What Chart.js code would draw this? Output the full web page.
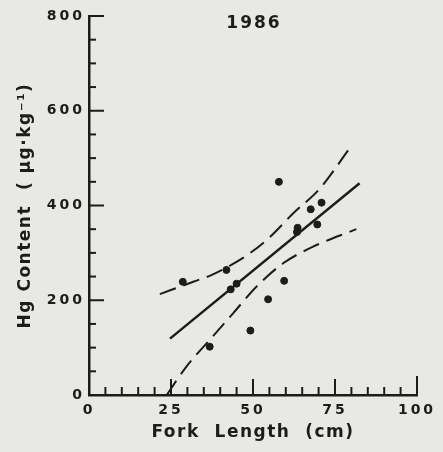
<!DOCTYPE html>
<html>
<head>
<meta charset="utf-8">
<script src="https://cdn.jsdelivr.net/npm/chart.js@4.4.1/dist/chart.umd.min.js"></script>
<style>
  html, body { margin: 0; padding: 0; background: #e8e8e5; }
  #wrap { width: 443px; height: 452px; }
</style>
</head>
<body>
<div id="wrap"><canvas id="chart1"></canvas></div>
<script>

// observed fish (fork length cm, Hg ug/kg)
const forkLength = [28.6, 36.8, 41.9, 43.2, 45.0, 49.2, 54.6, 57.9, 59.5, 63.6, 63.4, 67.6, 69.6, 70.9];
const hgContent  = [239, 102, 264, 223, 235, 136, 202, 450, 241, 353, 344, 392, 360, 406];

// regression line
const fitLength = [24.7, 82.5];
const fitHg     = [119, 447];

// upper confidence band
const upperLength = [21.6, 31.8, 37.3, 43.0, 49.0, 55.1, 62.2, 70.4, 79.8];
const upperHg     = [213, 239, 253, 273, 299, 333, 383, 436, 524];

// lower confidence band
const lowerLength = [23.7, 29.7, 36.9, 44.0, 51.1, 59.2, 68.3, 81.5];
const lowerHg     = [0, 60, 117, 173, 229, 278, 313, 350];

const xTickLabels = [0, 25, 50, 75, 100];
const yTickLabels = [0, 200, 400, 600, 800];
const chartTitle = '1986';

const ink = '#1c1c1c';

function toPoints(xs, ys) {
    return xs.map(function (x, i) { return { x: x, y: ys[i] }; });
}

function spaced(fn, sp) {
    return function () {
        const c = this.ctx;
        const old = c.letterSpacing;
        c.letterSpacing = sp;
        fn.apply(this, arguments);
        c.letterSpacing = old;
    };
}

// inward tick marks + letter spacing of the axis texts
const innerTicks = {
    id: 'innerTicks',
    afterUpdate: function (chart) {
        Object.values(chart.scales).forEach(function (s) {
            if (s._spaced) return;
            s.drawLabels = spaced(s.drawLabels, '3px');
            s.drawTitle = spaced(s.drawTitle, '1.5px');
            s._spaced = true;
        });
    },
    afterDraw: function (chart) {
        const ctx = chart.ctx;
        const xs = chart.scales.x;
        const ys = chart.scales.y;
        const area = chart.chartArea;
        ctx.save();
        ctx.strokeStyle = ink;
        ctx.lineWidth = 2;
        ctx.lineCap = 'butt';

        ys.ticks.forEach(function (t) {
            if (t.value === 0) return;
            const py = ys.getPixelForValue(t.value);
            const len = yTickLabels.indexOf(t.value) >= 0 ? 15 : 7;
            ctx.beginPath();
            ctx.moveTo(area.left, py);
            ctx.lineTo(area.left + len, py);
            ctx.stroke();
        });

        xs.ticks.forEach(function (t) {
            if (t.value === 0) return;
            const px = xs.getPixelForValue(t.value);
            let len = xTickLabels.indexOf(t.value) >= 0 ? 16 : 8;
            if (t.value === 100) len = 19;
            ctx.beginPath();
            ctx.moveTo(px, area.bottom);
            ctx.lineTo(px, area.bottom - len);
            ctx.stroke();
        });

        ctx.fillStyle = ink;
        ctx.font = 'bold 17px "DejaVu Sans"';
        ctx.letterSpacing = '2px';
        ctx.textAlign = 'center';
        ctx.textBaseline = 'middle';
        ctx.fillText(chartTitle, xs.getPixelForValue(50) + 1, area.top + 8);
        ctx.restore();
    }
};

const chart1 = new Chart(document.getElementById('chart1'), {
    type: 'scatter',
    data: {
        datasets: [
            {
                data: toPoints(forkLength, hgContent),
                backgroundColor: ink,
                borderColor: ink,
                pointRadius: 3.5,
                order: 0
            },
            {
                data: toPoints(fitLength, fitHg),
                showLine: true,
                borderColor: ink,
                borderWidth: 2.5,
                pointRadius: 0,
                order: 1
            },
            {
                data: toPoints(upperLength, upperHg),
                showLine: true,
                borderColor: ink,
                borderWidth: 2,
                borderDash: [17, 8],
                cubicInterpolationMode: 'monotone',
                pointRadius: 0,
                order: 2
            },
            {
                data: toPoints(lowerLength, lowerHg),
                showLine: true,
                borderColor: ink,
                borderWidth: 2,
                borderDash: [17, 8],
                cubicInterpolationMode: 'monotone',
                pointRadius: 0,
                order: 3
            }
        ]
    },
    options: {
        responsive: true,
        maintainAspectRatio: false,
        animation: false,
        layout: { padding: { top: 16, right: 26, bottom: 0, left: 0 } },
        plugins: {
            legend: { display: false },
            tooltip: { enabled: false }
        },
        scales: {
            x: {
                type: 'linear',
                min: 0,
                max: 100,
                afterFit: function (scale) { scale.height = 57; },
                grid: { display: false, drawTicks: false },
                border: { display: true, color: ink, width: 2.5 },
                ticks: {
                    stepSize: 5,
                    autoSkip: false,
                    maxRotation: 0,
                    padding: 7,
                    color: ink,
                    font: { family: 'DejaVu Sans', size: 14, weight: 'bold' },
                    callback: function (v) { return xTickLabels.indexOf(v) >= 0 ? String(v) : ''; }
                },
                title: {
                    display: true,
                    text: 'Fork  Length  (cm)',
                    color: ink,
                    font: { family: 'DejaVu Sans', size: 17, weight: 'bold' },
                    padding: { top: 0, bottom: 9 }
                }
            },
            y: {
                type: 'linear',
                min: 0,
                max: 800,
                afterFit: function (scale) { scale.width = 89; },
                grid: { display: false, drawTicks: false },
                border: { display: true, color: ink, width: 2.5 },
                ticks: {
                    stepSize: 50,
                    autoSkip: false,
                    padding: 4,
                    color: ink,
                    font: { family: 'DejaVu Sans', size: 14, weight: 'bold' },
                    callback: function (v) { return yTickLabels.indexOf(v) >= 0 ? String(v) : ''; }
                },
                title: {
                    display: true,
                    text: 'Hg Content  ( μg·kg⁻¹)',
                    color: ink,
                    font: { family: 'DejaVu Sans', size: 17, weight: 'bold' },
                    padding: { top: 15, bottom: 0 }
                }
            }
        }
    },
    plugins: [innerTicks]
});

</script>
</body>
</html>
